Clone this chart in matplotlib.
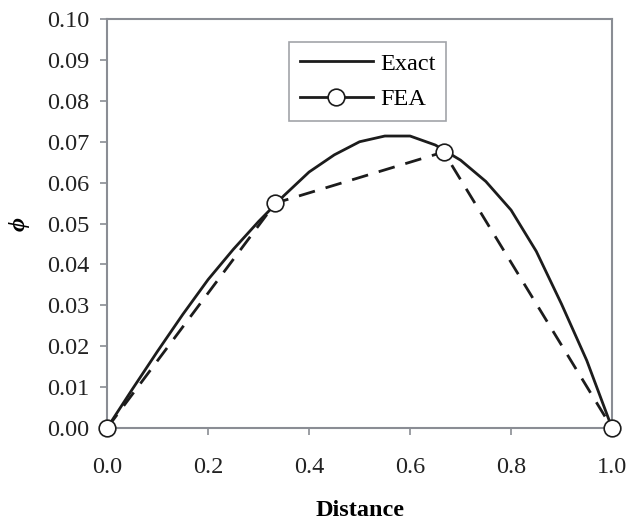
import matplotlib as mpl
mpl.use('agg')
import matplotlib.pyplot as plt
from matplotlib.lines import Line2D

# exact solution
x_exact = [0.0, 0.05, 0.10, 0.15, 0.20, 0.25, 0.30, 0.35, 0.40, 0.45, 0.50,
           0.55, 0.60, 0.65, 0.70, 0.75, 0.80, 0.85, 0.90, 0.95, 1.0]
phi_exact = [0.0, 0.0095, 0.0188, 0.0278, 0.0363, 0.0437, 0.0505, 0.0568, 0.0626,
             0.0668, 0.0700, 0.0714, 0.0714, 0.0692, 0.0655, 0.0603, 0.0533,
             0.0432, 0.0303, 0.0165, 0.0]

# FEA nodal values
x_fea = [0.0, 1.0 / 3.0, 2.0 / 3.0, 1.0]
phi_fea = [0.0, 0.0550, 0.0675, 0.0]

xticks = [0.0, 0.2, 0.4, 0.6, 0.8, 1.0]
yticks = [0.00, 0.01, 0.02, 0.03, 0.04, 0.05, 0.06, 0.07, 0.08, 0.09, 0.10]

plt.rcParams['font.family'] = ['Liberation Serif', 'DejaVu Serif']
plt.rcParams['font.size'] = 17.5

spine_col = '#8a8d94'
line_col = '#1c1c1c'

fig = plt.figure(figsize=(6.3, 5.22), dpi=100)
ax = fig.add_axes([0.170, 0.180, 0.8015, 0.7835])

ax.plot(x_exact, phi_exact, '-', color=line_col, lw=2.0)
ax.plot(x_fea, phi_fea, '--', color=line_col, lw=2.0, dashes=(6, 4),
        marker='o', markersize=12, markerfacecolor='white',
        markeredgecolor=line_col, markeredgewidth=1.2, clip_on=False,
        zorder=3)

ax.set_xlim(0.0, 1.0)
ax.set_ylim(0.0, 0.10)
ax.set_xticks(xticks)
ax.set_yticks(yticks)
ax.set_xticklabels(['{:.1f}'.format(v) for v in xticks])
ax.set_yticklabels(['{:.2f}'.format(v) for v in yticks])

for s in ax.spines.values():
    s.set_color(spine_col)
    s.set_linewidth(1.5)
ax.tick_params(axis='both', direction='out', color=spine_col, width=1.2,
               length=5, labelcolor='#222222')
ax.tick_params(axis='x', pad=16)
ax.tick_params(axis='y', pad=8)

ax.set_xlabel('Distance', fontweight='bold', labelpad=16)
ax.set_ylabel('ϕ', fontweight='bold', fontstyle='italic', labelpad=12)

# legend handles: FEA shown as a solid stub with the marker in the middle
handles = [Line2D([], [], color=line_col, lw=2.0),
           Line2D([], [], color=line_col, lw=2.0, marker='o', markersize=12,
                  markerfacecolor='white', markeredgecolor=line_col,
                  markeredgewidth=1.2)]
leg = ax.legend(handles, ['Exact', 'FEA'], loc='upper left',
                bbox_to_anchor=(0.360, 0.944), borderaxespad=0.0,
                frameon=True, fancybox=False, edgecolor=spine_col,
                handlelength=3.0, handletextpad=0.3, borderpad=0.45,
                labelspacing=0.55)
leg.get_frame().set_linewidth(1.2)

fig.savefig('out.png', dpi=100)
